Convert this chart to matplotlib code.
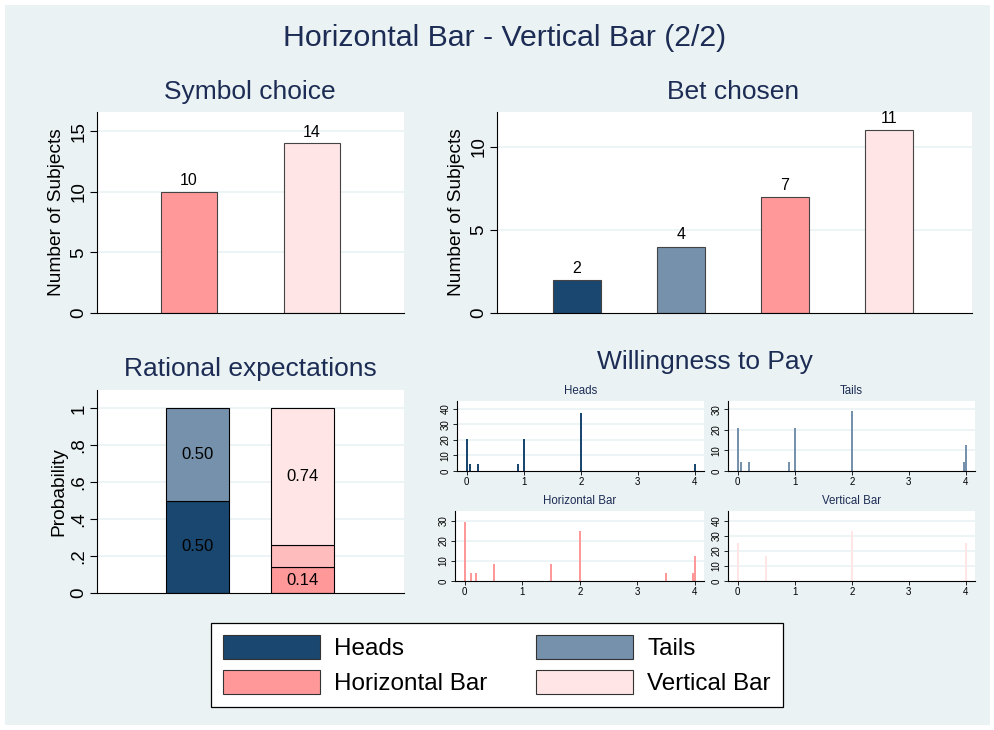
import matplotlib
matplotlib.use('Agg')
import matplotlib.pyplot as plt
from matplotlib.patches import Patch, Rectangle

W, H = 995, 730

navy = '#1a476f'
grey_blue = '#7591ab'
red = '#ff9999'
pink = '#ffe5e5'
mid_red = '#ffbcbc'
bg = '#eaf2f3'
title_col = '#1c2c54'

# Symbol choice
symbol_cats = ['Horizontal Bar', 'Vertical Bar']
symbol_counts = [10, 14]

# Bet chosen
bet_cats = ['Heads', 'Tails', 'Horizontal Bar', 'Vertical Bar']
bet_counts = [2, 4, 7, 11]

# Rational expectations (stacked)
re_coin = [0.50, 0.50]          # Heads, Tails
re_symbol = [0.14, 0.12, 0.74]  # Horizontal, middle, Vertical
re_symbol_labels = ['0.14', '', '0.74']

# Willingness to pay (percent)
wtp_heads_x = [0, 0.05, 0.2, 0.9, 1, 2, 4]
wtp_heads_y = [20.8, 4.2, 4.2, 4.2, 20.8, 37.5, 4.2]
wtp_tails_x = [0, 0.05, 0.2, 0.9, 1, 2, 3.97, 4]
wtp_tails_y = [20.8, 4.2, 4.2, 4.2, 20.8, 29.2, 4.2, 12.5]
wtp_horiz_x = [0, 0.1, 0.2, 0.5, 1.5, 2, 3.5, 3.97, 4]
wtp_horiz_y = [29.2, 4.2, 4.2, 8.3, 8.3, 25.0, 4.2, 4.2, 12.5]
wtp_vert_x = [0, 0.5, 2, 4]
wtp_vert_y = [25.0, 16.7, 33.3, 25.0]

plt.rcParams['font.family'] = ['Liberation Sans', 'DejaVu Sans']

fig = plt.figure(figsize=(W / 100, H / 100), dpi=100)
fig.patch.set_facecolor('white')
fig.patches.append(Rectangle((5 / W, 5 / H), 985 / W, 720 / H, transform=fig.transFigure,
                             facecolor=bg, edgecolor='none', zorder=-10))


def ax_px(l, t, r, b):
    return fig.add_axes([l / W, 1 - b / H, (r - l) / W, (b - t) / H])


def style(ax, yticks, ylabels, fs):
    ax.set_facecolor('white')
    for s in ['top', 'right']:
        ax.spines[s].set_visible(False)
    ax.set_yticks(yticks)
    ax.set_yticklabels(ylabels, rotation=90, va='center', fontsize=fs)
    for y in yticks[1:]:
        ax.axhline(y, color=bg, lw=1.2, zorder=0)
    ax.tick_params(axis='y', length=5, width=0.8, pad=2)


def title_px(x, y, s, fs):
    fig.text(x / W, 1 - y / H, s, ha='center', va='center', fontsize=fs, color=title_col)


title_px(505, 38, 'Horizontal Bar - Vertical Bar (2/2)', 21.8)

# Symbol choice
ax1 = ax_px(97, 112, 404, 313)
pos = [1, 2]
ax1.bar(pos, symbol_counts, width=0.46, color=[red, pink], edgecolor='#444444', lw=0.8, zorder=2)
for p, v in zip(pos, symbol_counts):
    ax1.text(p, v + 0.3, str(v), ha='center', va='bottom', fontsize=11.5)
ax1.set_xlim(0.25, 2.75)
ax1.set_ylim(0, 16.6)
ax1.set_xticks([])
style(ax1, [0, 5, 10, 15], ['0', '5', '10', '15'], 13.5)
ax1.set_ylabel('Number of Subjects', fontsize=13.8, labelpad=4)
title_px(250, 92, 'Symbol choice', 19)

# Bet chosen
ax2 = ax_px(497, 112, 972, 313)
pos = [1, 2, 3, 4]
ax2.bar(pos, bet_counts, width=0.46, color=[navy, grey_blue, red, pink],
        edgecolor='#444444', lw=0.8, zorder=2)
for p, v in zip(pos, bet_counts):
    ax2.text(p, v + 0.25, str(v), ha='center', va='bottom', fontsize=11.5)
ax2.set_xlim(0.23, 4.8)
ax2.set_ylim(0, 12.1)
ax2.set_xticks([])
style(ax2, [0, 5, 10], ['0', '5', '10'], 13.5)
ax2.set_ylabel('Number of Subjects', fontsize=13.8, labelpad=4)
title_px(733, 92, 'Bet chosen', 19)

# Rational expectations
ax3 = ax_px(97, 390, 404, 593)
ax3.bar(1, re_coin[0], width=0.6, color=navy, edgecolor='black', lw=0.8, zorder=2)
ax3.bar(1, re_coin[1], bottom=re_coin[0], width=0.6, color=grey_blue, edgecolor='black', lw=0.8, zorder=2)
ax3.text(1, re_coin[0] / 2, '%.2f' % re_coin[0], ha='center', va='center', fontsize=12)
ax3.text(1, re_coin[0] + re_coin[1] / 2, '%.2f' % re_coin[1], ha='center', va='center', fontsize=12)
bottom = 0
for v, c, lab in zip(re_symbol, [red, mid_red, pink], re_symbol_labels):
    ax3.bar(2, v, bottom=bottom, width=0.6, color=c, edgecolor='black', lw=0.8, zorder=2)
    if lab:
        ax3.text(2, bottom + v / 2, lab, ha='center', va='center', fontsize=12)
    bottom += v
ax3.set_xlim(0.05, 2.96)
ax3.set_ylim(0, 1.1)
ax3.set_xticks([])
style(ax3, [0, 0.2, 0.4, 0.6, 0.8, 1], ['0', '.2', '.4', '.6', '.8', '1'], 13.5)
ax3.set_ylabel('Probability', fontsize=13.8, labelpad=2)
title_px(250, 369, 'Rational expectations', 19)

# Willingness to pay
title_px(705, 362, 'Willingness to Pay', 19)
wtp = [
    ('Heads', (457, 401, 704, 471), wtp_heads_x, wtp_heads_y, navy, 45, [0, 10, 20, 30, 40]),
    ('Tails', (728, 401, 975, 471), wtp_tails_x, wtp_tails_y, grey_blue, 34, [0, 10, 20, 30]),
    ('Horizontal Bar', (455, 511, 704, 581), wtp_horiz_x, wtp_horiz_y, red, 34.8, [0, 10, 20, 30]),
    ('Vertical Bar', (728, 511, 975, 581), wtp_vert_x, wtp_vert_y, pink, 46.4, [0, 10, 20, 30, 40]),
]
for name, box, xs, ys, col, ytop, yt in wtp:
    ax = ax_px(*box)
    ax.bar(xs, ys, width=0.035, color=col, zorder=2)
    ax.set_xlim(-0.17, 4.16)
    ax.set_ylim(0, ytop)
    ax.set_xticks([0, 1, 2, 3, 4])
    ax.tick_params(axis='x', labelsize=7, length=3, width=0.6, pad=1.5)
    style(ax, yt, [str(v) for v in yt], 7)
    ax.tick_params(axis='y', length=3, width=0.6, pad=1.5)
    for s in ['left', 'bottom']:
        ax.spines[s].set_linewidth(0.8)
    l, t, r, b = box
    title_px((l + r) / 2, t - 10, name, 8.3)

# Legend
handles = [Patch(facecolor=c, edgecolor='#333333', lw=0.8) for c in [navy, red, grey_blue, pink]]
labels = ['Heads', 'Horizontal Bar', 'Tails', 'Vertical Bar']
leg = fig.legend(handles, labels, ncol=2, loc='center', bbox_to_anchor=(497 / W, 1 - 665 / H),
                 fontsize=17.5, handlelength=4.0, handleheight=1.15, handletextpad=0.58,
                 columnspacing=2.0, labelspacing=0.4, borderpad=0.5, fancybox=False,
                 frameon=True, edgecolor='black', framealpha=1)
leg.get_frame().set_linewidth(0.9)

plt.savefig('out.png', dpi=100, facecolor=fig.get_facecolor())
